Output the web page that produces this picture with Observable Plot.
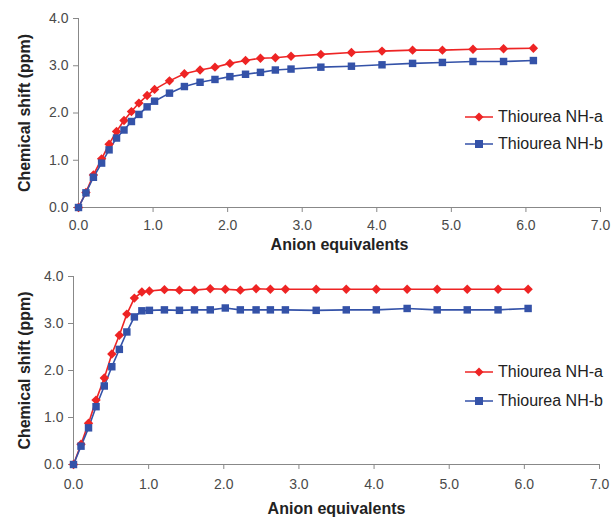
<!DOCTYPE html>
<html>
<head>
<meta charset="utf-8">
<script src="https://cdn.jsdelivr.net/npm/d3@7"></script>
<script src="https://cdn.jsdelivr.net/npm/@observablehq/plot@0.6"></script>
<style>
  html, body { margin: 0; padding: 0; background: #fff; }
  #wrap { position: relative; width: 611px; height: 517px; overflow: hidden; font-family: "Liberation Sans", Arial, sans-serif; }
  .panel { position: relative; width: 611px; }
  .legend { position: absolute; font-family: "Liberation Sans", Arial, sans-serif; font-size: 16px; color: #222; }
  .legend .row { display: flex; align-items: center; }
  .legend svg { margin-right: 5px; }
</style>
</head>
<body>
<div id="wrap"></div>
<script>
// ---- data ----
const seriesNames = ["Thiourea NH-a", "Thiourea NH-b"];
const seriesColors = ["#ee2424", "#3452a8"];
const xTicks = [0, 1, 2, 3, 4, 5, 6, 7];
const yTicks = [0, 1, 2, 3, 4];
const xLabel = "Anion equivalents";
const yLabel = "Chemical shift (ppm)";

// Panel 1
const topX = [0, 0.10, 0.20, 0.31, 0.41, 0.51, 0.61, 0.71, 0.81, 0.92, 1.02, 1.22, 1.42, 1.63, 1.83, 2.03, 2.24, 2.44, 2.64, 2.85, 3.25, 3.66, 4.07, 4.48, 4.88, 5.29, 5.70, 6.10];
const topA = [0, 0.32, 0.69, 1.03, 1.34, 1.61, 1.84, 2.03, 2.21, 2.37, 2.50, 2.68, 2.83, 2.91, 2.97, 3.05, 3.11, 3.16, 3.17, 3.20, 3.24, 3.28, 3.31, 3.33, 3.33, 3.35, 3.36, 3.37];
const topB = [0, 0.31, 0.64, 0.94, 1.22, 1.47, 1.64, 1.82, 1.97, 2.13, 2.25, 2.42, 2.56, 2.65, 2.71, 2.77, 2.82, 2.86, 2.91, 2.93, 2.97, 2.99, 3.02, 3.05, 3.07, 3.09, 3.09, 3.11];

// Panel 2
const botX = [0, 0.10, 0.20, 0.30, 0.41, 0.51, 0.61, 0.71, 0.81, 0.91, 1.01, 1.21, 1.41, 1.61, 1.82, 2.02, 2.22, 2.43, 2.62, 2.82, 3.23, 3.63, 4.03, 4.44, 4.84, 5.24, 5.65, 6.05];
const botA = [0, 0.43, 0.88, 1.37, 1.84, 2.35, 2.75, 3.20, 3.54, 3.67, 3.69, 3.72, 3.71, 3.71, 3.74, 3.73, 3.71, 3.74, 3.73, 3.73, 3.73, 3.73, 3.73, 3.73, 3.73, 3.73, 3.73, 3.73];
const botB = [0, 0.39, 0.78, 1.23, 1.67, 2.08, 2.45, 2.82, 3.14, 3.27, 3.28, 3.29, 3.28, 3.29, 3.29, 3.33, 3.29, 3.29, 3.29, 3.29, 3.28, 3.29, 3.29, 3.32, 3.29, 3.29, 3.29, 3.32];

// ---- symbols ----
const diamond = { draw(ctx, size) { const s = Math.sqrt(size) * 0.78; ctx.moveTo(0, -s); ctx.lineTo(s, 0); ctx.lineTo(0, s); ctx.lineTo(-s, 0); ctx.closePath(); } };
const square = { draw(ctx, size) { const s = Math.sqrt(size) / 2; ctx.rect(-s, -s, 2 * s, 2 * s); } };
const symbols = [diamond, square];

function toRows(xs, ys, name) { return xs.map((x, i) => ({ x, y: ys[i], series: name })); }

function panel(xs, a, b, opts) {
  const rowsA = toRows(xs, a, seriesNames[0]);
  const rowsB = toRows(xs, b, seriesNames[1]);
  const fmt = d => d.toFixed(1);
  return Plot.plot({
    width: 611,
    height: opts.height,
    marginLeft: opts.ml,
    marginRight: opts.mr,
    marginTop: opts.mt,
    marginBottom: opts.mb,
    style: { fontFamily: "Liberation Sans, Arial, sans-serif", background: "#fff", overflow: "visible" },
    x: { domain: [0, 7] },
    y: { domain: [0, 4] },
    marks: [
      Plot.axisX({ ticks: xTicks, tickFormat: fmt, tickSize: 5, tickPadding: opts.xpad, fontSize: 14, color: "#4a4a4a", stroke: "#888", label: null }),
      Plot.axisY({ ticks: yTicks, tickFormat: fmt, tickSize: 5, tickPadding: 5, fontSize: 14, color: "#4a4a4a", stroke: "#888", label: null }),
      Plot.ruleY([0], { stroke: "#888", strokeWidth: 1 }),
      Plot.ruleX([0], { stroke: "#888", strokeWidth: 1 }),
      Plot.line(rowsA, { x: "x", y: "y", stroke: seriesColors[0], strokeWidth: 1.6 }),
      Plot.line(rowsB, { x: "x", y: "y", stroke: seriesColors[1], strokeWidth: 1.6 }),
      Plot.dot(rowsA, { x: "x", y: "y", symbol: () => symbols[0], fill: seriesColors[0], r: 3.4, stroke: null }),
      Plot.dot(rowsB, { x: "x", y: "y", symbol: () => symbols[1], fill: seriesColors[1], r: 4.2, stroke: null }),
      Plot.text([yLabel], { frameAnchor: "left", textAnchor: "middle", lineAnchor: "middle", rotate: -90, dx: -opts.ylabOff, fontSize: 16, fontWeight: "bold", fill: "#222" }),
      Plot.text([xLabel], { frameAnchor: "bottom", textAnchor: "middle", lineAnchor: "middle", dy: opts.xlabOff, fontSize: 16, fontWeight: "bold", fill: "#222" })
    ]
  });
}

function legend(top, left, rowH) {
  const div = document.createElement("div");
  div.className = "legend";
  div.style.top = top + "px";
  div.style.left = left + "px";
  seriesNames.forEach((name, i) => {
    const row = document.createElement("div");
    row.className = "row";
    row.style.height = rowH + "px";
    const c = seriesColors[i];
    const mk = i === 0
      ? `<path d="M14,2.5 L18.5,7 L14,11.5 L9.5,7 Z" fill="${c}"/>`
      : `<rect x="10" y="3" width="8" height="8" fill="${c}"/>`;
    row.innerHTML = `<svg width="28" height="14"><line x1="0" x2="28" y1="7" y2="7" stroke="${c}" stroke-width="1.5"/>${mk}</svg><span>${name}</span>`;
    div.appendChild(row);
  });
  return div;
}

const wrap = document.getElementById("wrap");
const p1 = document.createElement("div"); p1.className = "panel";
p1.appendChild(panel(topX, topA, topB, { height: 258, ml: 78, mr: 11, mt: 18, mb: 51, ylabOff: 54, xlabOff: 37, xpad: 8 }));
wrap.appendChild(p1);
const p2 = document.createElement("div"); p2.className = "panel";
p2.appendChild(panel(botX, botA, botB, { height: 259, ml: 73, mr: 12, mt: 18, mb: 53, ylabOff: 49, xlabOff: 44, xpad: 10 }));
wrap.appendChild(p2);
wrap.appendChild(legend(104, 465, 26.5));
wrap.appendChild(legend(358, 465, 28.7));
</script>
</body>
</html>
